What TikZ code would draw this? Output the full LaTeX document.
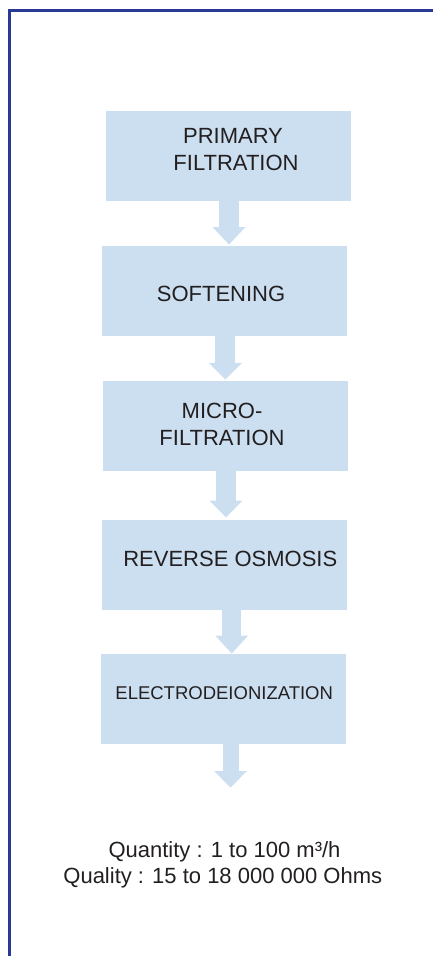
\documentclass[tikz,border=0pt]{standalone}
\usepackage{fontspec}
\setmainfont{Liberation Sans}
\usetikzlibrary{arrows.meta}
\definecolor{boxblue}{RGB}{204,223,240}
\definecolor{framenavy}{RGB}{40,58,150}
\definecolor{inkgray}{RGB}{35,31,32}
\tikzset{
  stepbox/.style={fill=boxblue, draw=none, minimum width=245pt, minimum height=90pt, inner sep=0pt, outer sep=0pt},
  lbl/.style={text=inkgray, inner sep=0pt, anchor=base, font=\fontsize{22}{26}\selectfont},
  smalllbl/.style={lbl, font=\fontsize{18.5}{22}\selectfont},
  notelbl/.style={lbl, font=\fontsize{22}{26}\selectfont},
  flow/.style={draw=boxblue, line width=#1},
  framelin/.style={draw=framenavy, line width=3pt}
}
\begin{document}
\begin{tikzpicture}[x=1pt,y=-1pt]
\useasboundingbox (0,0) rectangle (433,956);
% frame
\draw[framelin] (9,956) -- (9,10.5) -- (433,10.5);
% boxes
\node[stepbox] (b1) at (228.5,156) {};
\node[stepbox] (b2) at (224.5,291) {};
\node[stepbox] (b3) at (225.5,426) {};
\node[stepbox] (b4) at (224.5,565) {};
\node[stepbox] (b5) at (223.5,699) {};
% labels
\node[lbl] (t1a) at (233,143) {PRIMARY};
\node[lbl] (t1b) at (236,170) {FILTRATION};
\node[lbl] (t2) at (221,301) {SOFTENING};
\node[lbl] (t3a) at (222,418.5) {MICRO-};
\node[lbl] (t3b) at (222,445.5) {FILTRATION};
\node[lbl] (t4) at (230.3,566.5) {REVERSE OSMOSIS};
\node[smalllbl] (t5) at (224.2,699) {ELECTRODEIONIZATION};
% arrows
\draw[flow=19.5pt, -{Triangle[width=33pt,length=17.6pt,line width=0pt]}] ([xshift=0.5pt]b1.south) -- ([xshift=4.5pt,yshift=1.4pt]b2.north);
\draw[flow=20pt, -{Triangle[width=33.3pt,length=16.6pt,line width=0pt]}] ([xshift=0.8pt]b2.south) -- ([xshift=-0.2pt,yshift=1.5pt]b3.north);
\draw[flow=19.7pt, -{Triangle[width=33pt,length=17pt,line width=0pt]}] ([xshift=0.5pt]b3.south) -- ([xshift=1.5pt,yshift=2.5pt]b4.north);
\draw[flow=19pt, -{Triangle[width=33pt,length=18pt,line width=0pt]}] ([xshift=7.2pt]b4.south) -- ([xshift=8.2pt,yshift=0.5pt]b5.north);
\coordinate (outend) at (230.5,787.7);
\draw[flow=16pt, -{Triangle[width=32.7pt,length=16.7pt,line width=0pt]}] ([xshift=7pt]b5.south) -- (outend);
% notes
\node[notelbl] (q1) at (224.5,857) {Quantity : 1 to 100 m³/h};
\node[notelbl] (q2) at (222.8,883) {Quality : 15 to 18 000 000 Ohms};
\end{tikzpicture}
\end{document}
